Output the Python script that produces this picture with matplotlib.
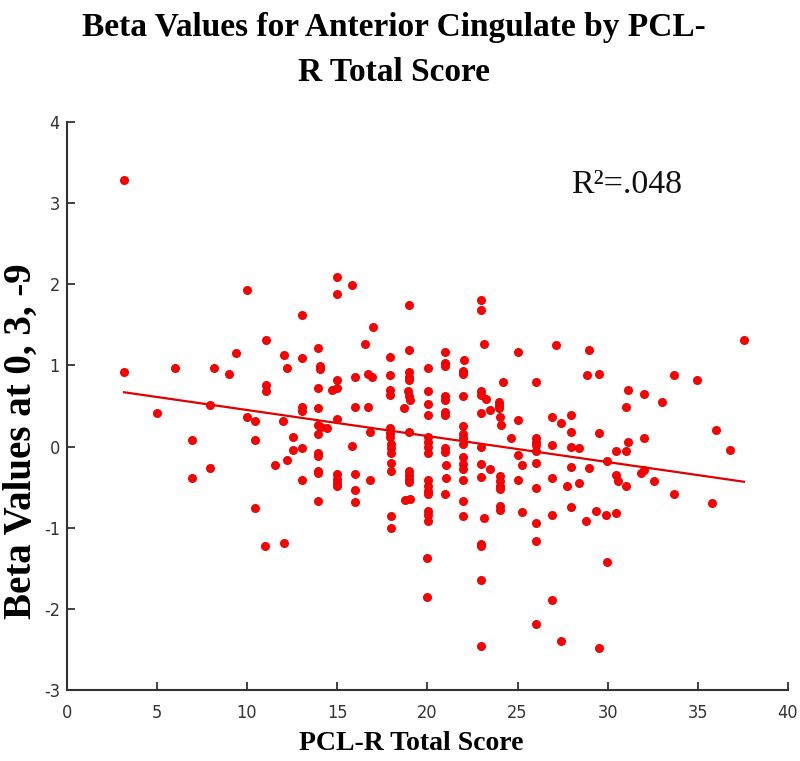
import numpy as np
import matplotlib
matplotlib.use("Agg")
import matplotlib.pyplot as plt

plt.rcParams["axes.unicode_minus"] = False

# ---- data ----
pcl_scores = [
    3.18, 3.18, 5.0, 6.0, 6.95, 6.95, 8.15, 7.96, 7.96, 9.0, 9.37, 9.98, 9.98,
    10.44, 10.44, 10.45, 11.03, 11.03, 11.03, 11.02, 11.55,
    12.05, 12.2, 12.0, 12.2, 12.03, 12.56, 12.56,
    13.05, 13.05, 13.05, 13.05, 13.05, 13.05,
    13.95, 14.04, 14.04, 13.95, 13.95, 13.95, 14.08, 14.41, 13.95, 13.95, 13.95, 13.95, 13.95, 13.95,
    14.69,
    14.97, 14.97, 14.97, 14.97, 14.97, 14.97, 14.97, 14.97, 14.97,
    15.8, 15.8,
    15.98, 15.98, 15.98, 15.98, 15.98,
    16.54, 16.72, 16.94, 16.72, 16.81, 16.81, 17.0,
    17.92, 17.92, 17.92, 17.92, 17.92, 17.92, 17.92, 17.97, 17.97, 17.97, 18.0, 18.0, 18.0, 18.0,
    18.71, 18.75,
    18.99, 18.99, 18.99, 18.99, 18.99, 18.94, 18.99, 19.03, 18.99, 18.99, 18.99, 18.99, 18.99, 19.03,
    20.04, 20.04, 20.04, 20.04, 20.04, 20.04, 20.04, 20.04, 20.04, 20.04, 20.04, 20.04, 20.04, 20.04,
    20.04, 20.0, 20.0,
    20.97, 20.97, 20.97, 20.97, 20.97, 20.97, 20.97, 20.97, 20.97, 21.06, 21.06, 20.97,
    22.04, 21.99, 21.99, 21.99, 21.99, 21.99, 21.99, 21.99, 21.99, 21.99, 21.99, 21.99, 21.99, 21.99,
    23.0, 23.0, 23.15, 23.0, 23.0, 23.24, 22.97, 23.0, 22.97, 22.97, 23.15, 22.97, 22.97, 22.97, 22.97,
    23.46, 23.46,
    23.98, 23.98, 23.98, 24.02, 24.1, 24.17, 24.02, 24.02, 24.02, 24.02, 24.02, 24.02,
    24.63,
    25.03, 25.03, 25.03, 25.02, 25.26, 25.26,
    26.0, 26.0, 26.0, 26.0, 26.0, 26.0, 26.0, 26.0, 26.0, 26.0,
    27.12, 26.94, 27.4, 26.94, 26.94, 26.94, 26.9, 27.4,
    27.95, 27.95, 27.95, 28.41, 27.95, 27.77, 28.41, 27.95, 28.8,
    28.97, 28.88, 29.52, 29.52, 28.97, 29.34, 29.52,
    29.99, 30.45, 30.48, 30.58, 29.93, 30.45, 29.99,
    31.1, 31.0, 31.1, 31.0, 31.0,
    32.02, 32.02, 31.83, 32.02, 32.57,
    33.04, 33.68, 33.68,
    34.98, 35.79,
    35.98, 36.8,
    37.56,
]
beta_values = [
    3.28, 0.92, 0.41, 0.97, 0.08, -0.39, 0.97, 0.51, -0.27, 0.90, 1.15, 1.93, 0.37,
    0.31, 0.08, -0.76, 1.31, 0.76, 0.69, -1.23, -0.23,
    1.13, 0.97, 0.31, -0.16, -1.19, 0.12, -0.04,
    1.62, 1.09, 0.49, 0.44, -0.02, -0.41,
    1.21, 0.99, 0.95, 0.72, 0.47, 0.27, 0.24, 0.23, 0.15, -0.08, -0.12, -0.30, -0.33, -0.67,
    0.70,
    2.09, 1.88, 0.82, 0.72, 0.34, -0.34, -0.40, -0.45, -0.49,
    1.99, 0.01,
    0.86, 0.49, -0.34, -0.53, -0.68,
    1.27, 0.90, 0.86, 0.49, 0.18, -0.41, 1.47,
    1.11, 0.88, 0.70, 0.64, 0.23, 0.17, 0.12, 0.03, -0.02, -0.08, -0.20, -0.30, -0.86, -1.00,
    0.47, -0.66,
    1.74, 1.19, 0.92, 0.86, 0.82, 0.68, 0.62, 0.58, 0.18, -0.30, -0.35, -0.40, -0.44, -0.64,
    0.97, 0.68, 0.53, 0.39, 0.12, 0.06, 0.00, -0.08, -0.41, -0.49, -0.55, -0.59, -0.80, -0.84,
    -0.92, -1.37, -1.86,
    1.17, 1.03, 0.99, 0.62, 0.58, 0.43, 0.39, -0.02, -0.07, -0.23, -0.39, -0.59,
    1.07, 0.93, 0.90, 0.62, 0.25, 0.15, 0.11, 0.03, -0.13, -0.22, -0.28, -0.41, -0.67, -0.85,
    1.81, 1.68, 1.27, 0.68, 0.64, 0.59, 0.41, 0.00, -0.22, -0.37, -0.88, -1.20, -1.22, -1.64, -2.46,
    0.45, -0.28,
    0.55, 0.51, 0.47, 0.37, 0.27, 0.80, -0.36, -0.42, -0.48, -0.52, -0.73, -0.78,
    0.11,
    1.17, 0.33, -0.10, -0.41, -0.23, -0.81,
    0.80, 0.11, 0.06, 0.02, -0.05, -0.20, -0.51, -0.94, -1.16, -2.19,
    1.25, 0.36, 0.29, 0.02, -0.39, -0.84, -1.89, -2.39,
    0.39, 0.18, 0.00, -0.02, -0.25, -0.49, -0.45, -0.74, -0.92,
    1.19, 0.88, 0.90, 0.17, -0.27, -0.80, -2.48,
    -0.18, -0.06, -0.35, -0.43, -0.84, -0.82, -1.42,
    0.70, 0.49, 0.06, -0.06, -0.49,
    0.65, 0.10, -0.33, -0.29, -0.43,
    0.55, 0.88, -0.59,
    0.82, -0.70,
    0.21, -0.04,
    1.31,
]

x_ticks = [0, 5, 10, 15, 20, 25, 30, 35, 40]
y_ticks = [-3, -2, -1, 0, 1, 2, 3, 4]
title_text = "Beta Values for Anterior Cingulate by PCL-\nR Total Score"
x_label = "PCL-R Total Score"
y_label = "Beta Values at 0, 3, -9"
r2_text = "R\u00b2=.048"

x = np.array(pcl_scores)
y = np.array(beta_values)
slope, intercept = np.polyfit(x, y, 1)
fit_x = np.array([x.min(), x.max()])
fit_y = slope * fit_x + intercept

W, H = 800, 761
fig = plt.figure(figsize=(W / 100, H / 100), dpi=100)
ax = fig.add_axes([66.7 / W, 1 - 690 / H, (788 - 66.7) / W, (690 - 122) / H])

ax.scatter(x, y, s=34, color="#ff0000", edgecolors="#e00000", linewidths=0.6, zorder=3)
ax.plot(fit_x, fit_y, color="#e00000", linewidth=1.6, zorder=2)

ax.set_xlim(0, 40)
ax.set_ylim(-3, 4)
ax.set_xticks(x_ticks)
ax.set_yticks(y_ticks)
for s in ["top", "right"]:
    ax.spines[s].set_visible(False)
for s in ["left", "bottom"]:
    ax.spines[s].set_color("#333333")
    ax.spines[s].set_linewidth(1.5)
ax.tick_params(direction="in", length=6, width=1.3, color="#333333",
               labelcolor="#333333", labelsize=13)
ax.tick_params(axis="x", pad=10)
ax.tick_params(axis="y", pad=5)
for lab in ax.get_xticklabels() + ax.get_yticklabels():
    lab.set_family(["Liberation Sans Narrow", "DejaVu Sans"])
    lab.set_stretch("condensed")

serif = ["Liberation Serif", "DejaVu Serif"]
fig.text(0.4925, 1 - 50 / H, title_text, ha="center", va="center", fontsize=24,
         fontweight="bold", family=serif, linespacing=1.6)
fig.text(571 / W, 1 - 185 / H, r2_text, ha="left", va="center", fontsize=24.5,
         family=serif, color="#111111")
fig.text(411 / W, 1 - 743 / H, x_label, ha="center", va="center", fontsize=20,
         fontweight="bold", family=serif)
fig.text(3 / W, 1 - 441 / H, y_label, ha="left", va="center", rotation=90,
         fontsize=28, fontweight="bold", family=serif)

fig.savefig("out.png", dpi=100)
